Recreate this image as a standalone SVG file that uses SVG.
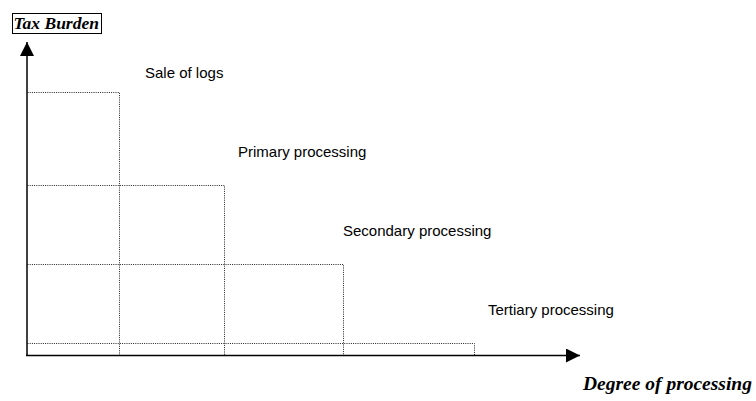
<svg xmlns="http://www.w3.org/2000/svg" width="756" height="401" viewBox="0 0 756 401">
  <style>
    .grid { fill: none; stroke: #222; stroke-width: 1; stroke-dasharray: 1 1.2; }
    .axis { stroke: #000; stroke-width: 1.5; fill: none; }
    .label { font-family: "Liberation Sans", Arial, sans-serif; font-size: 15px; fill: #000; }
    .title { font-family: "Liberation Serif", "Times New Roman", serif; font-weight: bold; font-style: italic; fill: #000; }
  </style>
  <defs>
    <marker id="arrow" viewBox="0 0 10 10" refX="10" refY="5" markerWidth="14" markerHeight="14" markerUnits="userSpaceOnUse" orient="auto">
      <path d="M0,0 L10,5 L0,10 Z" fill="#000"/>
    </marker>
  </defs>
  <rect width="756" height="401" fill="#fff"/>

  <!-- dotted step bars -->
  <g id="bars">
    <path class="grid" d="M27.5,92.5 H119.5 V355"/>
    <path class="grid" d="M27.5,185.5 H224.5 V355"/>
    <path class="grid" d="M27.5,264.5 H343.5 V355"/>
    <path class="grid" d="M27.5,343.5 H474.5 V355"/>
  </g>

  <!-- axes -->
  <g id="axes">
    <line class="axis" x1="27" y1="356" x2="27" y2="42" marker-end="url(#arrow)"/>
    <line class="axis" x1="26" y1="355.5" x2="580" y2="355.5" marker-end="url(#arrow)"/>
  </g>

  <g id="y-title">
    <rect x="12.5" y="13.5" width="89" height="20" fill="#fff" stroke="#000" stroke-width="1"/>
    <text class="title" x="13.5" y="29" font-size="17.5">Tax Burden</text>
  </g>
  <g id="x-title">
    <text class="title" x="583" y="390" font-size="19.5">Degree of processing</text>
  </g>

  <g id="labels">
    <text class="label" x="145" y="78">Sale of logs</text>
    <text class="label" x="238" y="157">Primary processing</text>
    <text class="label" x="343" y="236">Secondary processing</text>
    <text class="label" x="488" y="315">Tertiary processing</text>
  </g>
</svg>
